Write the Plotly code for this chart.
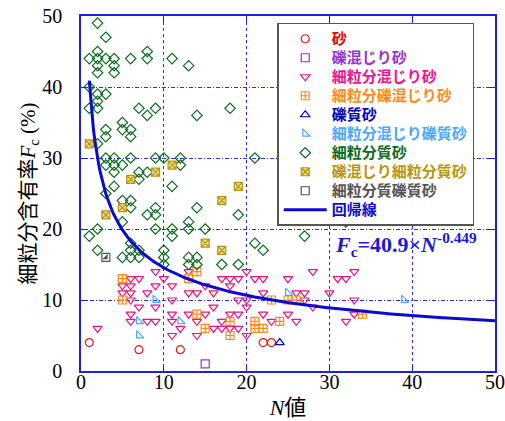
import numpy as np
import plotly.graph_objects as go

# ---------------- data (N value, fines content Fc %) ----------------
sand_x = [1, 7, 12, 22, 23]
sand_y = [4, 3, 3, 4, 4]

gravel_mixed_sand_x = [15]
gravel_mixed_sand_y = [1]

fines_mixed_sand_x = [9, 13, 6, 7, 10, 17, 5, 6, 9, 11, 15, 5, 6, 8, 13, 14, 16, 6, 11, 7, 9, 16,
                      6, 11, 13, 15, 6, 8, 9, 11, 14, 17, 2, 12, 16, 11, 14,
                      20, 28, 18, 19, 21, 22, 25, 18, 22, 26, 27, 30, 19, 20, 27, 20, 28, 18, 19,
                      22, 25, 23, 26, 17, 18, 19, 20,
                      31, 32, 33, 33, 33, 32]
fines_mixed_sand_y = [14, 14, 13, 13, 13, 13, 12, 12, 12, 12, 12, 11, 11, 11, 11, 11, 11, 10, 10, 9, 9, 9,
                      8, 8, 8, 8, 7, 7, 7, 7, 7, 7, 6, 6, 6, 5, 5,
                      14, 14, 13, 13, 13, 13, 13, 12, 11, 11, 11, 11, 10, 10, 10, 9, 9, 8, 8,
                      8, 8, 7, 7, 6, 6, 6, 5,
                      13, 13, 14, 10, 8, 7]

fines_gravel_mixed_sand_x = [5, 5, 13, 14, 14, 15, 18, 18, 21, 21, 22, 24, 23, 25, 26, 34]
fines_gravel_mixed_sand_y = [13, 10, 13, 14, 8, 6, 7, 5, 7, 6, 6, 7, 10, 10, 10, 8]

gravelly_sand_x = [24]
gravelly_sand_y = [4]

fines_mixed_gravelly_sand_x = [9, 7, 12, 7, 25, 39]
fines_mixed_gravelly_sand_y = [10, 7, 7, 5, 11, 10]

fines_sand_x = [2, 3, 2, 8, 1, 2, 3, 4, 6, 8, 11, 2, 4, 13, 2, 4, 1, 2, 3, 2, 1, 2, 7, 9, 18,
                8, 14, 5, 3, 5, 6, 3, 6, 2, 3, 4, 6, 9, 10, 12, 21, 3, 4, 5, 12, 4, 7, 8, 7,
                4, 11, 3, 5, 6, 6, 9, 14, 8, 9, 19, 5, 13, 32, 2, 9, 11, 13, 15, 1, 11, 27,
                6, 21, 2, 6, 7, 10, 22, 5, 6, 7, 10, 13, 14, 10, 13, 14, 17, 19]
fines_sand_y = [49, 47, 45, 45, 44, 44, 44, 44, 44, 44, 44, 43, 43, 43, 42, 42, 40, 39, 39, 38, 37, 37, 37, 37, 37,
                36, 36, 35, 34, 34, 34, 33, 33, 32, 30, 30, 30, 30, 30, 30, 30, 29, 29, 29, 29, 28, 28, 28, 27,
                26, 26, 25, 24, 24, 23, 23, 23, 22, 22, 22, 21, 21, 21, 20, 20, 20, 20, 20, 19, 19, 19,
                18, 18, 17, 17, 17, 17, 17, 16, 16, 16, 16, 16, 16, 15, 15, 15, 15, 15]

gravel_mixed_fines_sand_x = [1, 3, 5, 6, 9, 11, 15, 17, 17, 19]
gravel_mixed_fines_sand_y = [32, 22, 23, 27, 28, 29, 18, 24, 17, 26]

fines_gravelly_sand_x = [3]
fines_gravelly_sand_y = [16]

# regression Fc = a * N^b
reg_a = 40.9
reg_b = -0.449
reg_n_min, reg_n_max = 1, 50

# ---------------- styling ----------------
SERIF = "Liberation Serif, Times New Roman, Noto Sans CJK JP, serif"
GOTH = "Noto Sans CJK JP, sans-serif"
AXIS_BLUE = "#1f1fe0"

series = [
    ("砂", sand_x, sand_y, "circle-open", "#e51a1a", None, "#e60000"),
    ("礫混じり砂", gravel_mixed_sand_x, gravel_mixed_sand_y, "square-open", "#9933cc", None, "#9933cc"),
    ("細粒分混じり砂", fines_mixed_sand_x, fines_mixed_sand_y, "triangle-down-open", "#e8147f", None, "#f0148c"),
    ("細粒分礫混じり砂", fines_gravel_mixed_sand_x, fines_gravel_mixed_sand_y, "square-cross-open", "#ff8c1a", None, "#ff8c1a"),
    ("礫質砂", gravelly_sand_x, gravelly_sand_y, "triangle-up-open", "#0000cc", None, "#0000b3"),
    ("細粒分混じり礫質砂", fines_mixed_gravelly_sand_x, fines_mixed_gravelly_sand_y, "triangle-sw-open", "#4da6ff", None, "#4da6ff"),
    ("細粒分質砂", fines_sand_x, fines_sand_y, "diamond-open", "#0b6b1e", None, "#0b6b1e"),
    ("礫混じり細粒分質砂", gravel_mixed_fines_sand_x, gravel_mixed_fines_sand_y, "square-x", "#ead98a", "#b8960c", "#b8960c"),
    ("細粒分質礫質砂", fines_gravelly_sand_x, fines_gravelly_sand_y, "square-open", "#555555", None, "#555555"),
]

LEG_TXT = "font-size:15px"

fig = go.Figure()
for name, xs, ys, sym, col, lcol, tcol in series:
    marker = dict(symbol=sym, size=8, color=col, line=dict(width=1.2, color=lcol if lcol else col))
    fig.add_trace(go.Scatter(
        x=xs, y=ys, mode="markers", marker=marker,
        name=f"<span style='color:{tcol};{LEG_TXT}'><b>{name}</b></span>",
    ))
    if name == "細粒分質礫質砂":
        fig.add_trace(go.Scatter(
            x=xs, y=ys, mode="markers", showlegend=False, hoverinfo="skip",
            marker=dict(symbol="triangle-se", size=6, color="#555555", line=dict(width=0)),
        ))

reg_n = np.linspace(reg_n_min, reg_n_max, 300)
reg_fc = reg_a * reg_n ** reg_b
fig.add_trace(go.Scatter(
    x=reg_n, y=reg_fc, mode="lines", line=dict(color="#0a0ad0", width=3),
    name=f"<span style='color:#0a0ad0;{LEG_TXT}'><b>回帰線</b></span>",
))

fig.add_annotation(
    x=30.4, y=17.8, xref="x", yref="y", xanchor="left", yanchor="middle", showarrow=False,
    text="<b><i>F</i></b><sub><b>c</b></sub><b>=40.9×<i>N</i></b><sup><b>-0.449</b></sup>",
    font=dict(family=SERIF, size=22, color="#1a1ad8"),
)

axis_common = dict(
    range=[0, 50], dtick=10, tick0=0, automargin=False,
    showline=True, linecolor=AXIS_BLUE, linewidth=1.5, mirror="ticks",
    ticks="inside", ticklen=6, tickcolor=AXIS_BLUE, tickwidth=1.2,
    showgrid=True, gridcolor="#2b2bff", gridwidth=1,
    zeroline=False, ticklabeloverflow="allow",
    tickfont=dict(family=SERIF, size=20, color="black"),
)

fig.update_layout(
    width=505, height=421,
    margin=dict(l=81, r=10, t=16, b=50),
    paper_bgcolor="white", plot_bgcolor="white",
    showlegend=True,
    legend=dict(
        x=0.474, y=0.981, xanchor="left", yanchor="top",
        bgcolor="white", bordercolor="#555555", borderwidth=1.5,
        font=dict(family=GOTH, size=12.2),
        itemwidth=43, tracegroupgap=0,
    ),
    xaxis=dict(**axis_common, griddash="dot", ticklabelstandoff=-8,
               title=dict(text="<i>N</i>値", font=dict(family=SERIF, size=22, color="black"), standoff=8)),
    yaxis=dict(**axis_common, griddash="4px,2px,1px,2px", ticklabelstandoff=13,
               title=dict(text="細粒分含有率<i>F</i><sub>c</sub> (%)",
                          font=dict(family=SERIF, size=21, color="black"), standoff=0)),
)

fig.write_html(
    "out.html",
    config={"displayModeBar": False},
    post_script="document.body.style.margin='0';document.body.style.overflow='hidden';",
)
